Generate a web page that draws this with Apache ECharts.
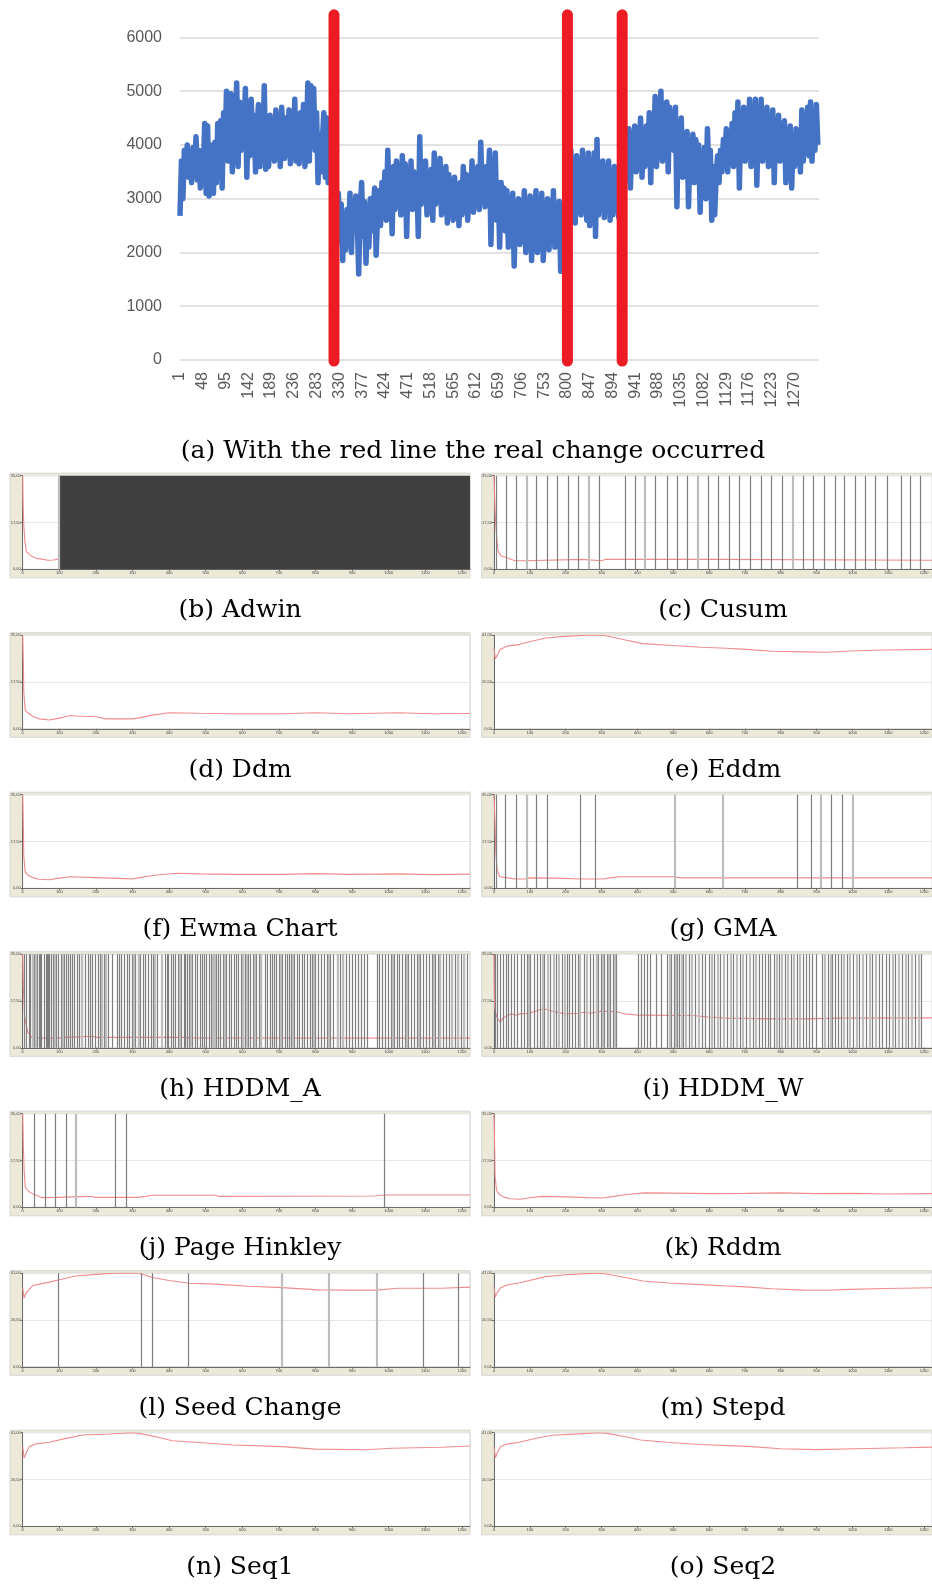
<!DOCTYPE html>
<html><head><meta charset="utf-8">
<script src="https://cdn.jsdelivr.net/npm/echarts@6.0.0/dist/echarts.min.js"></script>
<style>html,body{margin:0;padding:0;background:#fff}#c{width:932px;height:1585px}</style>
</head><body><div id="c"></div><script>
// ---------- (a) main series: one value every 3rd sample ----------
const sampleStep = 3;
const categoryCount = 1320;
const mainValues = [
2680,3700,3000,3900,3550,4000,3400,3850,3300,3950,3550,4150,3350,3900,3200,3750,3450,4400,3100,4350,
3050,4000,3500,3100,4050,3300,4400,3800,4450,3200,4600,3850,5000,3700,4200,4950,3500,4700,4100,5150,
3600,4800,3900,4600,4150,5050,3400,4700,3800,4850,4000,4550,3500,4300,4750,3600,4400,3900,5100,3550,
4200,3600,4550,3800,4350,3700,4650,3900,4450,3600,4700,4100,3750,4500,3850,4650,3650,4300,3950,4850,
3700,4400,3650,4600,3800,4750,3600,4150,5150,3700,5100,4000,5050,3900,4600,3300,4200,3500,4100,4600,
3400,4500,3300,4200,3350,4550,2700,3150,2400,3100,2200,2900,1850,2700,2050,2800,2400,3100,2000,2950,
2500,3050,2600,1600,2800,3300,2300,2950,1800,2700,2100,3000,2400,2800,3200,1950,2700,3150,2500,3300,
2700,3500,2600,3900,2900,3400,2350,3600,2800,3700,3000,3550,2700,3800,3100,3650,2300,3400,2900,3700,
2800,3500,3000,3350,2300,4150,2900,3600,3100,3700,2700,3300,3000,3550,2600,3850,2900,3400,3100,3750,
2700,3300,2900,3600,2550,3450,3000,3250,2600,3400,2800,3150,2500,3300,2700,3600,2900,3450,2600,3200,
2900,3700,2750,3500,3000,3600,2800,4050,3100,3400,2850,3600,3200,3900,2150,3500,3000,3850,2600,3300,
2100,3300,2600,3200,2400,3150,2100,2900,2500,3100,1750,2800,2300,3000,2150,2700,2500,3150,2000,2800,
2400,3050,1850,2900,2300,3150,2000,2800,2500,3100,1850,2700,2300,3000,2050,2850,2400,3150,2100,2900,
2300,2950,1650,2600,1800,2500,2200,3300,2700,3900,2800,3500,2550,3800,3000,3600,2700,3900,2900,3400,
2600,3850,2500,3600,2800,3850,2300,4100,2700,3400,2900,3700,2650,3500,3100,3700,2600,3300,2700,3600,
2800,3500,2650,3900,3100,4200,3300,4150,3600,4300,3200,4050,3700,4350,3500,4000,3800,4500,3400,4200,
3600,4350,3900,4600,3300,4400,3800,4900,3600,4700,4100,5000,3700,4600,3900,4800,3500,4700,4200,4600,
3900,4700,2850,4300,3600,4500,3400,4100,3700,4250,2850,3900,3500,4200,3300,4100,3600,4000,2750,3700,
3400,3950,3000,4300,3500,3900,2600,3600,2700,3400,3800,3300,3900,3500,4100,3700,4300,3500,4200,3800,
4400,3600,4600,3800,4800,3200,4500,3900,4700,3700,4600,4000,4850,3600,4500,3900,4850,3250,4400,3800,
4850,3700,4600,4100,4700,3600,4300,3900,4650,3300,4400,3800,4550,3700,4300,4000,4450,3300,4200,3700,
4350,3200,4100,3600,4300,3800,4200,3500,4650,3700,4300,3900,4700,3800,4800,3700,4600,3900,4750,4000
];
const changePoints = [318, 800, 913];      // category index of the red lines
const changeLineSpan = [6420, -20];        // red bars run past the plot
const mainYTicks = {min: 0, max: 6000, interval: 1000};

// ---------- small panels: error curves [x, y] ----------
const adwinErr = [[0,35],[1,25],[3,16.5],[6,10.3],[10,6.6],[20,5.4],[29,4.6],[38,4.1],[56,3.7],[70,3.4],[84,3.5],[100,3.9]];
const cusumErr = [[0,35],[3,22],[5,16.6],[10,8],[12,6.6],[20,5],[28,4.7],[53,3.5],[60,3.2],[88,3.2],[90,3.7],[245,3.7],[250,3.2],[300,3.2],[310,3.7],[618,3.7],[622,3.4],[1222,3.4]];
const ddmErr = [[0,35],[2,24],[3,13.6],[7,6.8],[14,6.0],[27,4.7],[45,3.7],[73,3.3],[100,4.0],[132,5.0],[146,4.8],[200,4.5],[227,3.7],[300,3.7],[318,4.1],[355,5.1],[400,6.0],[482,5.8],[573,5.6],[709,5.6],[800,6.0],[891,5.6],[1027,6.0],[1118,5.6],[1222,5.7]];
const eddmErr = [[0,35.1],[4,30.7],[9,32.2],[18,34.9],[36,36.2],[72,37.0],[99,38.1],[144,39.8],[198,40.5],[261,41],[297,41.1],[325,40.3],[370,38.8],[415,37.3],[487,36.6],[577,35.7],[649,35.3],[703,34.8],[775,34.0],[866,33.7],[929,33.5],[992,34.1],[1091,34.5],[1222,34.8]];
const ewmaErr = [[0,35],[2,22],[3,12],[7,6.0],[14,5.0],[27,4.0],[45,3.4],[73,3.2],[100,3.8],[130,4.3],[200,4.0],[280,3.6],[300,3.5],[320,4.0],[360,4.9],[420,5.6],[482,5.4],[573,5.2],[709,5.2],[800,5.5],[891,5.2],[1027,5.4],[1118,5.1],[1222,5.3]];
const gmaErr = [[0,35],[3,24],[5,13.6],[9,6.9],[16,4.3],[34,4.0],[61,3.5],[88,3.5],[97,3.9],[178,3.8],[241,3.5],[305,3.5],[323,3.9],[350,4.3],[503,4.3],[521,3.9],[1222,3.9]];
const hddmAErr = [[0,35],[2,22],[5,11.8],[14,5.8],[27,3.6],[91,3.6],[95,3.9],[118,3.9],[123,4.4],[191,4.3],[200,3.9],[445,3.9],[455,3.7],[1222,3.6]];
const hddmWErr = [[0,35],[1,18],[3,14.2],[7,11.8],[12,10.5],[18,9.5],[25,11.2],[35,11.8],[48,12.7],[62,12.2],[71,12.7],[98,12.9],[130,14.3],[144,14.4],[162,13.7],[198,12.7],[235,12.9],[253,13.3],[271,12.9],[298,13.7],[344,13.5],[362,12.7],[407,12.2],[553,12.1],[598,11.5],[644,11.1],[780,10.8],[871,10.8],[962,11.1],[1222,11.2]];
const phErr = [[0,35],[2,22],[4,13.6],[7,7.4],[16,6.0],[25,5.2],[44,4.1],[53,3.6],[89,3.7],[94,4.2],[189,4.1],[198,3.7],[316,3.7],[335,4.1],[353,4.5],[525,4.5],[535,4.1],[962,4.2],[989,4.6],[1222,4.6]];
const rddmErr = [[0,35],[2,22],[3,12],[7,6.3],[14,5.0],[27,3.8],[45,3.2],[73,3.0],[100,3.6],[132,4.1],[200,3.9],[260,3.6],[300,3.5],[330,4.0],[370,4.8],[420,5.4],[500,5.3],[600,5.1],[700,5.2],[800,5.4],[900,5.1],[1000,5.2],[1100,5.0],[1222,5.1]];
const seedErr = [[0,34.7],[4,30.1],[9,32.3],[27,35.6],[73,37.1],[100,38.1],[145,39.8],[209,40.6],[264,41.1],[318,41],[355,39.1],[400,37.8],[455,36.6],[527,36.2],[618,35.3],[709,34.7],[809,33.7],[891,33.6],[964,33.6],[1027,34.4],[1145,34.4],[1222,34.9]];
const stepdErr = [[0,35],[4,30.5],[9,32.5],[18,34.5],[36,35.8],[72,36.8],[99,37.8],[144,39.5],[198,40.3],[261,40.8],[297,41],[325,40.3],[370,39.0],[415,37.6],[487,36.7],[577,36.0],[649,35.4],[703,35.0],[775,34.2],[866,33.6],[929,33.5],[992,33.9],[1091,34.3],[1222,34.6]];
const seq1Err = [[0,34.9],[4,29.9],[9,32.0],[18,34.9],[36,36.1],[73,36.8],[118,38.5],[164,40.0],[236,40.4],[300,41],[318,40.7],[364,39.2],[409,37.5],[482,36.7],[573,35.6],[709,34.9],[800,33.8],[936,33.5],[1009,34.2],[1145,34.6],[1222,35.2]];
const seq2Err = [[0,35],[4,30],[9,32.2],[18,34.8],[36,36.0],[73,36.9],[118,38.6],[164,39.9],[236,40.5],[296,41],[320,40.6],[364,39.3],[409,37.8],[482,36.8],[573,35.8],[709,35.0],[800,34.0],[900,33.6],[1009,34.0],[1145,34.4],[1222,34.7]];

// ---------- detections (x positions of grey lines) ----------
const adwinBlock = [99, 1222];
const adwinLight = [98];
const cusumDark = [5,33,62,119,148,177,207,235,295,365,394,451,482,510,539,598,625,655,685,716,745,774,803,862,891,920,951,978,1007,1036,1065,1096,1135,1162,1189];
const cusumLight = [91,265,421,568,833];
const gmaDark = [5,32,61,118,148,240,282,845,886,942,971];
const gmaLight = [90,503,638,913,1000];
const hddmADark = [4,11,17,21,31,40,44,48,52,58,63,66,69,73,79,84,91,98,105,113,118,125,131,135,141,148,155,163,170,178,184,191,199,206,213,222,233,246,258,265,270,278,286,292,299,308,315,322,330,336,343,350,357,368,390,395,399,405,411,417,424,432,440,445,450,456,463,471,478,484,490,496,502,509,515,522,529,535,541,547,556,563,570,577,583,590,596,602,609,616,622,630,638,645,653,662,668,675,681,687,693,700,709,716,722,728,734,742,749,755,763,770,778,786,792,800,808,815,823,832,840,849,858,868,877,885,893,900,908,916,924,932,940,968,975,982,990,998,1006,1014,1022,1030,1038,1046,1054,1062,1070,1078,1086,1094,1102,1110,1118,1126,1134,1142,1150,1158,1166,1174,1182,1190,1198,1206,1214];
const hddmALight = [27,36,88,109,160,217,228,303,318,362,380,428,460,520,526,552,600,612,635,650,704,738,796,835,862,873,1010,1050,1082,1122,1138,1172,1188,1204];
const hddmWDark = [3,10,18,26,33,41,49,57,66,75,84,93,102,111,120,130,140,158,175,190,203,211,219,227,236,252,268,276,284,292,300,308,316,324,333,341,402,410,418,427,436,452,468,484,494,502,510,518,527,545,562,580,590,600,615,632,650,668,686,704,722,740,748,756,764,772,781,795,812,828,845,862,871,880,889,898,915,932,944,952,960,968,985,1002,1020,1038,1056,1074,1084,1094,1104,1120,1138,1156,1174,1192];
const hddmWLight = [96,135,150,166,182,196,240,260,288,304,320,337,490,506,523,536,553,571,608,625,642,660,678,695,713,731,788,804,820,836,853,924,940,976,993,1011,1029,1047,1065,1112,1130,1148,1166,1184];
const phDark = [32,62,89,119,253,283,989];
const phLight = [146];
const seedDark = [98,323,355,451,1094,1189];
const seedLight = [707,836,966];

const panelCaptions = ['(b) Adwin','(c) Cusum','(d) Ddm','(e) Eddm','(f) Ewma Chart','(g) GMA','(h) HDDM_A','(i) HDDM_W','(j) Page Hinkley','(k) Rddm','(l) Seed Change','(m) Stepd','(n) Seq1','(o) Seq2'];
const panelYMax = [35,35,35,41,35,35,35,35,35,35,41,41,41,41];
const panelXTicks = [0,100,200,300,400,500,600,700,800,900,1000,1100,1200];
const panelXMax = 1222;
const mainCaption = '(a) With the red line the real change occurred';

const panelErr = [adwinErr,cusumErr,ddmErr,eddmErr,ewmaErr,gmaErr,hddmAErr,hddmWErr,phErr,rddmErr,seedErr,stepdErr,seq1Err,seq2Err];
const panelDark = [[],cusumDark,[],[],[],gmaDark,hddmADark,hddmWDark,phDark,[],seedDark,[],[],[]];
const panelLight = [adwinLight,cusumLight,[],[],[],gmaLight,hddmALight,hddmWLight,phLight,[],seedLight,[],[],[]];
const panelBlock = [adwinBlock,null,null,null,null,null,null,null,null,null,null,null,null,null];

// ---------- layout ----------
const L = {
  main: {left: 180, top: 37.4, width: 638.8, height: 322.6},
  mainCap: {x: 473, y: 451},
  pTop0: 475.7, pPitch: 159.5, pH: 93.6, pW: 447.3,
  plotLeft: [22.7, 494], frameLeft: [10, 481.7], frameRight: [470, 932],
  capX: [240, 723], capY0: 610.5
};

const categories = Array.from({length: categoryCount}, (_, i) => String(i + 1));
const grids = [], xAxes = [], yAxes = [], series = [], graphics = [];
const plain = v => String(v);

grids.push(Object.assign({show: false}, L.main));
xAxes.push({type: 'category', gridIndex: 0, data: categories, boundaryGap: false,
  axisLine: {show: false}, axisTick: {show: false},
  axisLabel: {interval: 46, rotate: 90, color: '#595959', fontSize: 16, fontFamily: 'Liberation Sans', margin: 12, showMaxLabel: false},
  splitLine: {show: false}});
yAxes.push({type: 'value', gridIndex: 0, min: mainYTicks.min, max: mainYTicks.max, interval: mainYTicks.interval,
  axisLine: {show: false}, axisTick: {show: false},
  axisLabel: {color: '#595959', fontSize: 16, fontFamily: 'Liberation Sans', margin: 18, formatter: plain},
  splitLine: {lineStyle: {color: '#d9d9d9', width: 1.5}}});
series.push({type: 'line', xAxisIndex: 0, yAxisIndex: 0, z: 2, symbol: 'none',
  data: mainValues.map((v, k) => [k * sampleStep, v]),
  lineStyle: {color: '#4472c4', width: 5.5, join: 'round'}});
changePoints.forEach(i => series.push({type: 'line', xAxisIndex: 0, yAxisIndex: 0, z: 3, symbol: 'none', clip: false,
  data: [[i, changeLineSpan[0]], [i, changeLineSpan[1]]],
  lineStyle: {color: '#ed1c24', width: 11, cap: 'round'}}));
graphics.push({type: 'text', x: L.mainCap.x, y: L.mainCap.y, z: 10,
  style: {text: mainCaption, fontSize: 25, fontFamily: 'DejaVu Serif', fill: '#000', align: 'center', verticalAlign: 'middle', textAlign: 'center', textVerticalAlign: 'middle'}});

const fmt = v => v.toFixed(2).replace('.', ',');

panelCaptions.forEach((cap, p) => {
  const r = Math.floor(p / 2), c = p % 2, gi = p + 1;
  const top = L.pTop0 + r * L.pPitch;
  grids.push({left: L.plotLeft[c], top: top, width: L.pW, height: L.pH, show: true, backgroundColor: '#ffffff', borderColor: '#d4d4d4', borderWidth: 1});
  xAxes.push({type: 'value', gridIndex: gi, min: 0, max: panelXMax, interval: 100,
    axisLine: {show: true, onZero: false, lineStyle: {color: '#6b6b6b', width: 1}},
    axisTick: {show: true, length: 2, customValues: panelXTicks, lineStyle: {color: '#6b6b6b'}},
    axisLabel: {customValues: panelXTicks, fontSize: 4, color: '#444', fontFamily: 'Liberation Sans', margin: 2, formatter: plain},
    splitLine: {show: false}});
  yAxes.push({type: 'value', gridIndex: gi, min: 0, max: panelYMax[p], interval: panelYMax[p] / 2,
    axisLine: {show: true, onZero: false, lineStyle: {color: '#6b6b6b', width: 1}},
    axisTick: {show: true, length: 2, lineStyle: {color: '#6b6b6b'}},
    axisLabel: {fontSize: 4, color: '#444', fontFamily: 'Liberation Sans', margin: 2, formatter: fmt},
    splitLine: {show: true, lineStyle: {color: '#e6e6e6', width: 1}}});
  const ml = panelDark[p].map(x => ({xAxis: x}))
    .concat(panelLight[p].map(x => ({xAxis: x, lineStyle: {color: '#bdbdbd', width: 2.2}})));
  const det = {type: 'line', xAxisIndex: gi, yAxisIndex: gi, data: [], z: 2, symbol: 'none'};
  if (ml.length) det.markLine = {silent: true, symbol: ['none', 'none'], label: {show: false}, animation: false,
    lineStyle: {color: '#7e7e7e', width: 1.2, type: 'solid'}, emphasis: {disabled: true}, data: ml};
  if (panelBlock[p]) det.markArea = {silent: true, animation: false, itemStyle: {color: '#404040', opacity: 1},
    data: [[{xAxis: panelBlock[p][0]}, {xAxis: panelBlock[p][1]}]]};
  series.push(det);
  series.push({type: 'line', xAxisIndex: gi, yAxisIndex: gi, z: 4, symbol: 'none', data: panelErr[p],
    lineStyle: {color: '#f08c8c', width: 1.1}});
  graphics.push({type: 'rect', z: -10, shape: {x: L.frameLeft[c], y: top - 2.5, width: L.frameRight[c] - L.frameLeft[c], height: L.pH + 11},
    style: {fill: '#ece9d8', stroke: '#d6d6d6', lineWidth: 1}});
  graphics.push({type: 'text', z: 10, x: L.capX[c], y: L.capY0 + r * L.pPitch,
    style: {text: cap, fontSize: 25, fontFamily: 'DejaVu Serif', fill: '#000', align: 'center', verticalAlign: 'middle', textAlign: 'center', textVerticalAlign: 'middle'}});
});

const chart = echarts.init(document.getElementById('c'), null, {renderer: 'canvas', width: 932, height: 1585});
chart.setOption({animation: false, backgroundColor: '#ffffff', grid: grids, xAxis: xAxes, yAxis: yAxes, series: series, graphic: graphics});
</script></body></html>
